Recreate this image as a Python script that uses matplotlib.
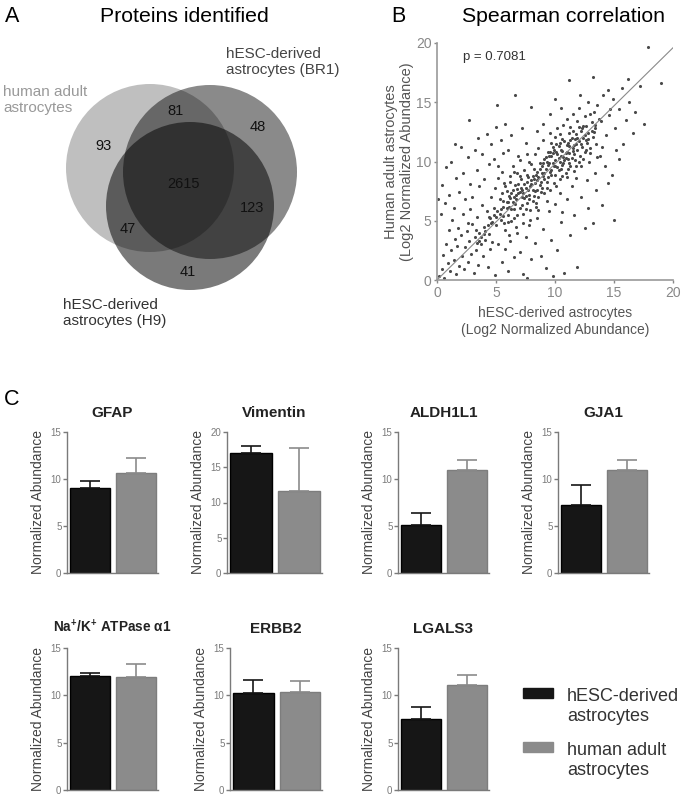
import matplotlib
matplotlib.use("Agg")
import matplotlib.pyplot as plt
from matplotlib.patches import Circle, Rectangle
import numpy as np

plt.rcParams['font.family'] = ['Liberation Sans', 'DejaVu Sans']
plt.rcParams['mathtext.fontset'] = 'custom'
plt.rcParams['mathtext.rm'] = 'Liberation Sans:bold'
plt.rcParams['mathtext.bf'] = 'Liberation Sans:bold'

# --- data -----------------------------------------------------------------
# Venn (A): region counts
venn_regions = ['adult only', 'adult+BR1', 'BR1 only', 'all', 'BR1+H9', 'adult+H9', 'H9 only']
venn_counts = [93, 81, 48, 2615, 123, 47, 41]

# Spearman scatter (B): hESC-derived (x) vs human adult (y), log2 abundance
sc_x = [8.2, 8.5, 8.7, 8.9, 9.0, 9.1, 9.2, 9.3, 9.4, 9.5, 9.6, 9.7, 9.8, 9.9, 10.0, 10.0, 10.1, 10.2, 10.3, 10.4,
        10.5, 10.6, 10.7, 10.8, 10.9, 11.0, 11.1, 11.2, 11.3, 11.4, 11.5, 11.6, 11.7, 11.8, 11.9, 12.0, 12.1, 12.2, 12.3, 12.4,
        12.5, 12.6, 12.7, 12.8, 13.0, 13.1, 13.2, 13.4, 13.5, 13.7, 8.0, 8.3, 8.6, 8.8, 9.0, 9.3, 9.6, 9.9, 10.2, 10.4,
        10.7, 11.0, 11.3, 11.6, 11.9, 12.2, 12.5, 12.9, 13.3, 13.6, 7.6, 7.8, 8.1, 10.5, 10.9, 11.2, 9.8, 10.3, 11.7, 12.0,
        4.5, 4.8, 5.0, 5.1, 5.3, 5.4, 5.5, 5.6, 5.7, 5.8, 5.9, 6.0, 6.1, 6.2, 6.3, 6.4, 6.5, 6.6, 6.7, 6.8,
        6.9, 7.0, 7.1, 7.2, 7.3, 7.4, 7.5, 7.6, 7.7, 7.8, 7.9, 8.0, 8.1, 8.2, 8.3, 8.4, 8.5, 8.6, 8.7, 8.9,
        4.6, 4.9, 5.2, 5.5, 5.8, 6.1, 6.4, 6.7, 7.0, 7.3, 7.6, 7.9, 6.0, 6.5, 7.0, 7.4, 6.2, 6.9, 5.9, 7.2,
        0.2, 0.4, 0.5, 0.6, 0.8, 0.9, 1.0, 1.1, 1.2, 1.3, 1.4, 1.5, 1.6, 1.7, 1.8, 1.9, 2.0, 2.1, 2.2, 2.3,
        2.4, 2.5, 2.6, 2.7, 2.8, 2.9, 3.0, 3.1, 3.2, 3.3, 3.4, 3.5, 3.6, 3.7, 3.8, 3.9, 4.0, 4.1, 4.2, 4.3,
        4.4, 4.5, 4.6, 4.7, 4.8, 4.9, 3.3, 2.6, 3.6, 4.1,
        0.1, 0.3, 0.4, 0.7, 0.8, 1.0, 1.2, 1.4, 1.6, 1.9, 2.0, 2.2, 2.4, 2.6, 2.8, 3.0, 3.2, 3.4, 3.6, 3.8,
        4.0, 4.2, 4.4, 4.6, 4.8, 5.0, 5.2, 5.4, 5.6, 5.8, 6.0, 6.3, 6.6, 6.9, 7.2, 7.5, 3.5, 2.7, 1.5, 5.1,
        5.2, 5.5, 5.8, 6.0, 6.2, 6.5, 6.8, 7.0, 7.3, 7.5, 7.8, 8.0, 8.3, 8.5, 8.8, 9.0, 9.2, 9.5, 9.7, 10.0,
        10.2, 10.5, 10.8, 11.0, 11.3, 11.6, 11.9, 12.2, 12.5, 12.8, 13.2, 13.5, 14.0, 14.5, 15.0, 9.3, 8.6, 10.4, 11.4, 12.7,
        13.4, 14.2, 14.8, 15.4, 9.8, 7.6, 6.3, 11.8, 13.8, 10.6,
        12.0, 12.4, 12.8, 13.0, 13.3, 13.6, 13.9, 14.1, 14.3, 14.6, 14.9, 15.1, 15.4, 15.7, 16.0, 16.3, 16.8, 17.2, 17.5, 17.9,
        19.0, 11.2, 13.2, 11.5, 12.1, 14.5, 15.8, 16.6, 14.0, 15.2, 11.0, 10.5, 9.6, 9.0, 8.5, 8.0, 10.0, 16.2, 12.6, 14.7,
        # dense core
        9.1, 9.4, 9.7, 10.0, 10.3, 10.6, 10.9, 11.2, 11.5, 11.8, 9.2, 9.5, 9.8, 10.1, 10.4, 10.7, 11.0, 11.3, 11.6, 11.9,
        8.4, 8.7, 9.0, 9.3, 9.6, 9.9, 10.2, 10.5, 10.8, 11.1, 12.2, 12.5, 12.8, 13.1, 13.4, 12.0, 12.3, 11.4, 10.6, 9.7,
        7.1, 7.4, 7.7, 8.0, 8.3, 8.6, 7.0, 7.3, 7.6, 7.9, 6.1, 6.4, 6.7, 6.3, 6.6, 5.9, 5.6, 6.8, 7.2, 6.5,
        8.2, 8.5, 8.8, 9.1, 9.4, 9.7, 8.9, 8.1, 7.5, 7.8, 5.3, 5.6, 5.0, 4.7, 4.3, 4.0, 3.7, 3.4, 5.4, 4.4,
        10.0, 10.4, 11.2, 11.5, 12.6, 13.0, 12.4, 11.8, 11.1, 10.6, 6.0, 6.8, 7.5, 8.4, 9.1, 9.6, 10.1, 6.2, 5.7, 6.5]
sc_y = [8.5, 9.1, 8.0, 9.6, 8.8, 10.2, 9.4, 8.3, 10.8, 9.9, 9.1, 10.5, 11.2, 9.6, 10.1, 8.9, 11.5, 10.6, 9.3, 10.0,
        11.0, 9.7, 10.4, 11.7, 9.0, 10.8, 10.2, 11.3, 9.6, 12.0, 10.9, 11.4, 10.1, 12.3, 11.0, 11.7, 10.5, 12.6, 11.2, 12.0,
        10.8, 13.0, 11.6, 12.4, 11.1, 13.3, 12.1, 12.8, 11.5, 13.6, 9.8, 10.6, 11.1, 7.4, 11.8, 7.8, 12.4, 8.2, 12.8, 8.5,
        13.1, 8.7, 12.9, 9.2, 13.4, 9.6, 13.8, 10.0, 14.2, 10.4, 8.9, 10.0, 7.6, 9.4, 10.7, 9.9, 10.7, 11.3, 11.9, 10.0,
        5.2, 6.1, 4.6, 5.8, 6.8, 5.1, 7.3, 6.2, 4.8, 7.9, 6.6, 5.5, 7.1, 8.3, 6.0, 7.6, 5.2, 8.0, 6.8, 9.0,
        7.3, 6.1, 8.5, 7.0, 5.6, 9.3, 7.8, 6.5, 8.7, 7.2, 5.9, 8.1, 6.7, 9.4, 7.5, 6.2, 8.4, 7.0, 9.9, 7.8,
        7.0, 7.8, 8.6, 9.1, 4.2, 3.8, 9.6, 4.5, 10.1, 4.8, 10.6, 5.1, 6.6, 7.0, 7.4, 6.9, 6.9, 8.1, 7.5, 6.3,
        0.3, 0.9, 2.1, 0.2, 3.0, 1.4, 4.2, 0.8, 2.5, 5.1, 1.7, 3.5, 0.5, 2.9, 4.4, 1.2, 3.8, 2.0, 5.6, 0.9,
        2.8, 4.1, 1.5, 3.3, 6.0, 2.2, 4.7, 0.6, 3.6, 2.5, 5.3, 1.3, 4.0, 3.0, 6.3, 2.0, 4.5, 3.4, 5.8, 1.1,
        3.9, 2.6, 4.8, 3.2, 5.5, 0.4, 4.2, 4.8, 3.3, 4.1,
        6.8, 5.6, 8.0, 6.5, 9.5, 7.2, 10.0, 6.1, 8.6, 7.4, 11.2, 9.0, 6.8, 10.4, 8.1, 7.0, 11.0, 9.3, 7.9, 10.6,
        8.5, 12.3, 9.8, 11.5, 10.2, 12.9, 9.6, 11.8, 10.7, 13.2, 11.0, 12.2, 15.6, 10.5, 12.8, 11.6, 12.0, 13.5, 11.5, 14.8,
        3.0, 1.5, 2.6, 0.8, 3.3, 1.9, 4.0, 2.4, 0.5, 3.6, 4.6, 1.8, 3.1, 5.2, 2.0, 4.3, 1.0, 5.8, 3.4, 6.4,
        2.5, 4.9, 0.6, 6.8, 3.8, 5.5, 1.1, 7.0, 4.4, 6.1, 4.8, 7.6, 6.3, 8.2, 5.1, 6.7, 5.9, 7.3, 7.9, 8.4,
        9.0, 9.6, 8.9, 10.2, 0.3, 0.2, 5.0, 8.6, 10.5, 5.7,
        14.5, 13.0, 15.0, 14.0, 12.5, 14.8, 13.4, 15.6, 12.2, 13.9, 15.3, 12.8, 14.4, 16.2, 13.5, 15.0, 14.2, 16.4, 13.2, 19.7,
        16.6, 16.9, 17.1, 14.0, 15.6, 16.0, 11.5, 12.4, 11.2, 11.0, 13.6, 14.5, 14.0, 13.2, 12.6, 14.6, 15.3, 17.0, 11.8, 14.4,
        # dense core
        9.0, 9.7, 9.3, 9.6, 10.3, 10.9, 10.3, 10.7, 11.1, 11.5, 10.4, 10.5, 9.9, 10.8, 11.6, 9.9, 11.4, 11.8, 10.6, 12.0,
        8.9, 9.4, 9.9, 10.0, 10.8, 11.0, 9.5, 10.5, 10.1, 11.6, 11.5, 12.2, 11.9, 12.6, 13.1, 12.9, 12.8, 10.3, 11.9, 11.6,
        7.8, 8.1, 7.6, 8.4, 8.2, 8.7, 8.8, 7.3, 8.3, 7.9, 6.2, 6.6, 7.2, 7.3, 6.4, 6.1, 6.7, 7.7, 7.6, 6.0,
        7.1, 7.6, 8.3, 8.5, 8.7, 8.9, 9.0, 8.8, 7.1, 6.8, 5.6, 5.4, 5.3, 4.9, 4.6, 3.9, 3.6, 3.1, 6.0, 5.3,
        12.1, 12.3, 12.4, 12.6, 11.0, 10.7, 10.2, 9.6, 9.4, 8.8, 4.9, 5.5, 6.0, 6.5, 7.3, 7.6, 7.9, 8.8, 8.2, 9.1]
rho_text = 'p = 0.7081'

# Bar panels (C)
proteins = ['GFAP', 'Vimentin', 'ALDH1L1', 'GJA1',
            'Na$^{+}$/K$^{+}$ ATPase α1', 'ERBB2', 'LGALS3']
hesc_mean = [9.0, 17.0, 5.1, 7.2, 12.0, 10.2, 7.5]
hesc_err = [0.8, 1.0, 1.3, 2.2, 0.4, 1.4, 1.3]
adult_mean = [10.6, 11.6, 11.0, 11.0, 11.9, 10.4, 11.1]
adult_err = [1.6, 6.2, 1.0, 1.0, 1.4, 1.1, 1.1]
ymax = [15, 20, 15, 15, 15, 15, 15]
group_labels = ['hESC-derived\nastrocytes', 'human adult\nastrocytes']

BLACK = '#161616'
GRAY = '#8b8b8b'
AXC = '#7a7a7a'

W, H = 685, 796
fig = plt.figure(figsize=(W / 100, H / 100), dpi=100)


def fbox(x0, y0, x1, y1):
    # pixel box (top-left origin) -> figure fraction
    return [x0 / W, 1 - y1 / H, (x1 - x0) / W, (y1 - y0) / H]


# ---------------- A: Venn ----------------
axv = fig.add_axes([0, 1 - 340 / H, 340 / W, 340 / H])
axv.set_xlim(0, 340)
axv.set_ylim(340, 0)
axv.axis('off')
axv.add_patch(Circle((150, 168), 84, color='black', alpha=0.25, lw=0))
axv.add_patch(Circle((210, 172), 87, color='black', alpha=0.46, lw=0))
axv.add_patch(Circle((190, 206), 84, color='black', alpha=0.52, lw=0))
count_pos = [(103, 146), (176, 111), (258, 127), (183, 184), (252, 208), (128, 229), (188, 272)]
for (px, py), n in zip(count_pos, venn_counts):
    axv.text(px, py, str(n), ha='center', va='center', fontsize=10.5, color='#111111')
axv.text(3, 100, 'human adult\nastrocytes', ha='left', va='center', fontsize=11,
         color='#999999', linespacing=1.2)
axv.text(226, 62, 'hESC-derived\nastrocytes (BR1)', ha='left', va='center', fontsize=11,
         color='#444444', linespacing=1.2)
axv.text(63, 313, 'hESC-derived\nastrocytes (H9)', ha='left', va='center', fontsize=11,
         color='#333333', linespacing=1.2)

fig.text(12 / W, 1 - 16 / H, 'A', fontsize=15.5, ha='center', va='center')
fig.text(184 / W, 1 - 16 / H, 'Proteins identified', fontsize=15.3, ha='center', va='center')
fig.text(398 / W, 1 - 16 / H, 'B', fontsize=15.5, ha='center', va='center')
fig.text(563 / W, 1 - 16 / H, 'Spearman correlation', fontsize=15.3, ha='center', va='center')
fig.text(12 / W, 1 - 400 / H, 'C', fontsize=15.5, ha='center', va='center')

# ---------------- B: scatter ----------------
axs = fig.add_axes(fbox(437, 43, 673, 280))
axs.scatter(sc_x, sc_y, s=5, color='#4a4a4a', lw=0)
axs.axline((0, 0), slope=0.98, color='#8a8a8a', lw=0.8)
axs.set_xlim(0, 20)
axs.set_ylim(0, 20)
axs.set_xticks([0, 5, 10, 15, 20])
axs.set_yticks([0, 5, 10, 15, 20])
for s in ['top', 'right']:
    axs.spines[s].set_visible(False)
for s in ['left', 'bottom']:
    axs.spines[s].set_color('#999999')
    axs.spines[s].set_linewidth(1.2)
axs.tick_params(colors='#888888', labelsize=10, length=2.5, width=1, pad=1.5)
axs.set_xlabel('hESC-derived astrocytes\n(Log2 Normalized Abundance)', fontsize=10,
               color='#555555', labelpad=5)
axs.set_ylabel('Human adult astrocytes\n(Log2 Normalized Abundance)', fontsize=10.5,
               color='#555555', labelpad=1)
axs.text(2.2, 18.8, rho_text, fontsize=9.5, color='#333333', ha='left', va='center')

# ---------------- C: bars ----------------
boxes = [(67, 432, 158, 573), (227, 432, 322, 573), (398, 432, 489, 573), (558, 432, 649, 573),
         (67, 648, 158, 790), (230, 648, 322, 790), (398, 648, 489, 790)]
title_size = [11, 11, 11, 11, 9.8, 11, 11]
for i, name in enumerate(proteins):
    ax = fig.add_axes(fbox(*boxes[i]))
    ax.bar([0], [hesc_mean[i]], width=0.87, color=BLACK, edgecolor='black', lw=1)
    ax.bar([1], [adult_mean[i]], width=0.87, color=GRAY, edgecolor='#7d7d7d', lw=1)
    ax.errorbar([0], [hesc_mean[i]], yerr=[[0], [hesc_err[i]]], fmt='none',
                ecolor=BLACK, elinewidth=1.2, capsize=7, capthick=1.2)
    ax.errorbar([1], [adult_mean[i]], yerr=[[0], [adult_err[i]]], fmt='none',
                ecolor=GRAY, elinewidth=1.2, capsize=7, capthick=1.2)
    ax.set_xlim(-0.5, 1.47)
    ax.set_ylim(0, ymax[i])
    ax.set_yticks(np.arange(0, ymax[i] + 1, 5))
    ax.set_xticks([])
    for s in ['top', 'right']:
        ax.spines[s].set_visible(False)
    for s in ['left', 'bottom']:
        ax.spines[s].set_color(AXC)
        ax.spines[s].set_linewidth(1)
    ax.tick_params(axis='y', colors=AXC, labelsize=7, length=3, width=1, pad=1)
    ax.set_ylabel('Normalized Abundance', fontsize=10, color='#444444', labelpad=4)
    ax.set_title(name, fontsize=title_size[i], fontweight='bold', color='#222222', pad=11)

# legend, drawn by hand so the swatches sit beside the first text line
leg_colors = [BLACK, GRAY]
for k, (lab, col) in enumerate(zip(group_labels, leg_colors)):
    top = 688 + 54 * k
    fig.add_artist(Rectangle((523 / W, 1 - (top + 10) / H), 30 / W, 10 / H,
                             transform=fig.transFigure, facecolor=col, edgecolor=col))
    fig.text(567 / W, 1 - top / H, lab, fontsize=13, color='#333333',
             ha='left', va='top', linespacing=1.25)

fig.savefig('out.png', dpi=100)
